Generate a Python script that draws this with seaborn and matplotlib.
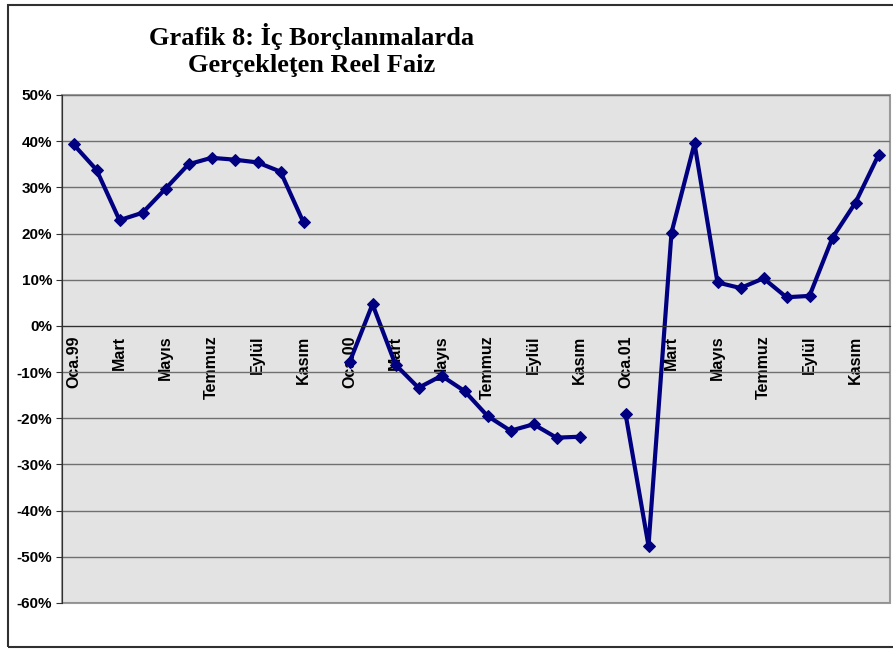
import numpy as np
import pandas as pd
import seaborn as sns
import matplotlib.pyplot as plt
from matplotlib.patches import Rectangle

# monthly real interest rate on domestic borrowing, Jan 1999 - Dec 2001 (%)
months_1999 = [39.3, 33.8, 22.9, 24.5, 29.7, 35.0, 36.4, 36.0, 35.4, 33.4, 22.4, np.nan]
months_2000 = [-7.9, 4.7, -8.4, -13.4, -10.8, -14.1, -19.5, -22.7, -21.3, -24.2, -24.0, np.nan]
months_2001 = [-19.0, -47.6, 20.2, 39.5, 9.4, 8.2, 10.3, 6.2, 6.5, 19.1, 26.7, 37.0]

tick_labels = ['Oca.99', 'Mart', 'Mayıs', 'Temmuz', 'Eylül', 'Kasım',
               'Oca.00', 'Mart', 'Mayıs', 'Temmuz', 'Eylül', 'Kasım',
               'Oca.01', 'Mart', 'Mayıs', 'Temmuz', 'Eylül', 'Kasım']

values = months_1999 + months_2000 + months_2001
df = pd.DataFrame({'month': np.arange(len(values)), 'faiz': values})
# split into runs so missing months leave a gap in the line
df['segment'] = df['faiz'].isna().cumsum()
df = df.dropna()

sns.set_style('white')
plt.rcParams['font.family'] = ['Liberation Sans', 'DejaVu Sans']
plt.rcParams['text.color'] = 'black'
plt.rcParams['xtick.color'] = 'black'
plt.rcParams['ytick.color'] = 'black'

fig = plt.figure(figsize=(8.93, 6.51), dpi=100)
ax = fig.add_axes([62 / 893, 48 / 651, 828 / 893, 508 / 651])
ax.set_facecolor('#e3e3e3')

sns.lineplot(data=df, x='month', y='faiz', units='segment', estimator=None,
             color='#000080', linewidth=3, marker='D', markersize=6.5,
             markeredgecolor='#000080', ax=ax)

ax.set_xlim(-0.5, len(values) - 0.5)
ax.set_ylim(-60, 50)
ax.set_yticks(np.arange(-60, 51, 10))
ax.set_yticklabels([f'{v}%' for v in range(-60, 51, 10)], fontweight='bold', fontsize=11)
ax.yaxis.grid(True, color='#707070', linewidth=1)
ax.set_axisbelow(True)

# category axis crosses at 0%
ax.spines['bottom'].set_position(('data', 0))
ax.spines['bottom'].set_color('#303030')
ax.spines['left'].set_color('#303030')
for s in ['top', 'right']:
    ax.spines[s].set_visible(False)
ax.patch.set_edgecolor('#9a9a9a')
ax.patch.set_linewidth(1.5)

ax.set_xticks(np.arange(-0.5, len(values), 1), minor=True)
ax.set_xticks(np.arange(0, len(values), 2))
ax.set_xticklabels(tick_labels, rotation=90, fontweight='bold', fontsize=11.5, va='top')
ax.tick_params(axis='x', which='major', length=0, pad=7)
ax.tick_params(axis='x', which='minor', length=4, direction='out', color='#303030')
ax.tick_params(axis='y', length=4, direction='out', color='#303030', pad=3, left=True)
ax.set_xlabel('')
ax.set_ylabel('')

fig.text(312 / 893, 1 - 50 / 651, 'Grafik 8: İç Borçlanmalarda\nGerçekleţen Reel Faiz',
         ha='center', va='center', fontsize=19, fontweight='bold',
         family=['Liberation Serif', 'DejaVu Serif'], linespacing=1.2)

fig.patches.append(Rectangle((8 / 893, 4 / 651), 1.0, 642 / 651, transform=fig.transFigure,
                             fill=False, edgecolor='#303030', linewidth=1.5))

fig.savefig('out.png', dpi=100)
